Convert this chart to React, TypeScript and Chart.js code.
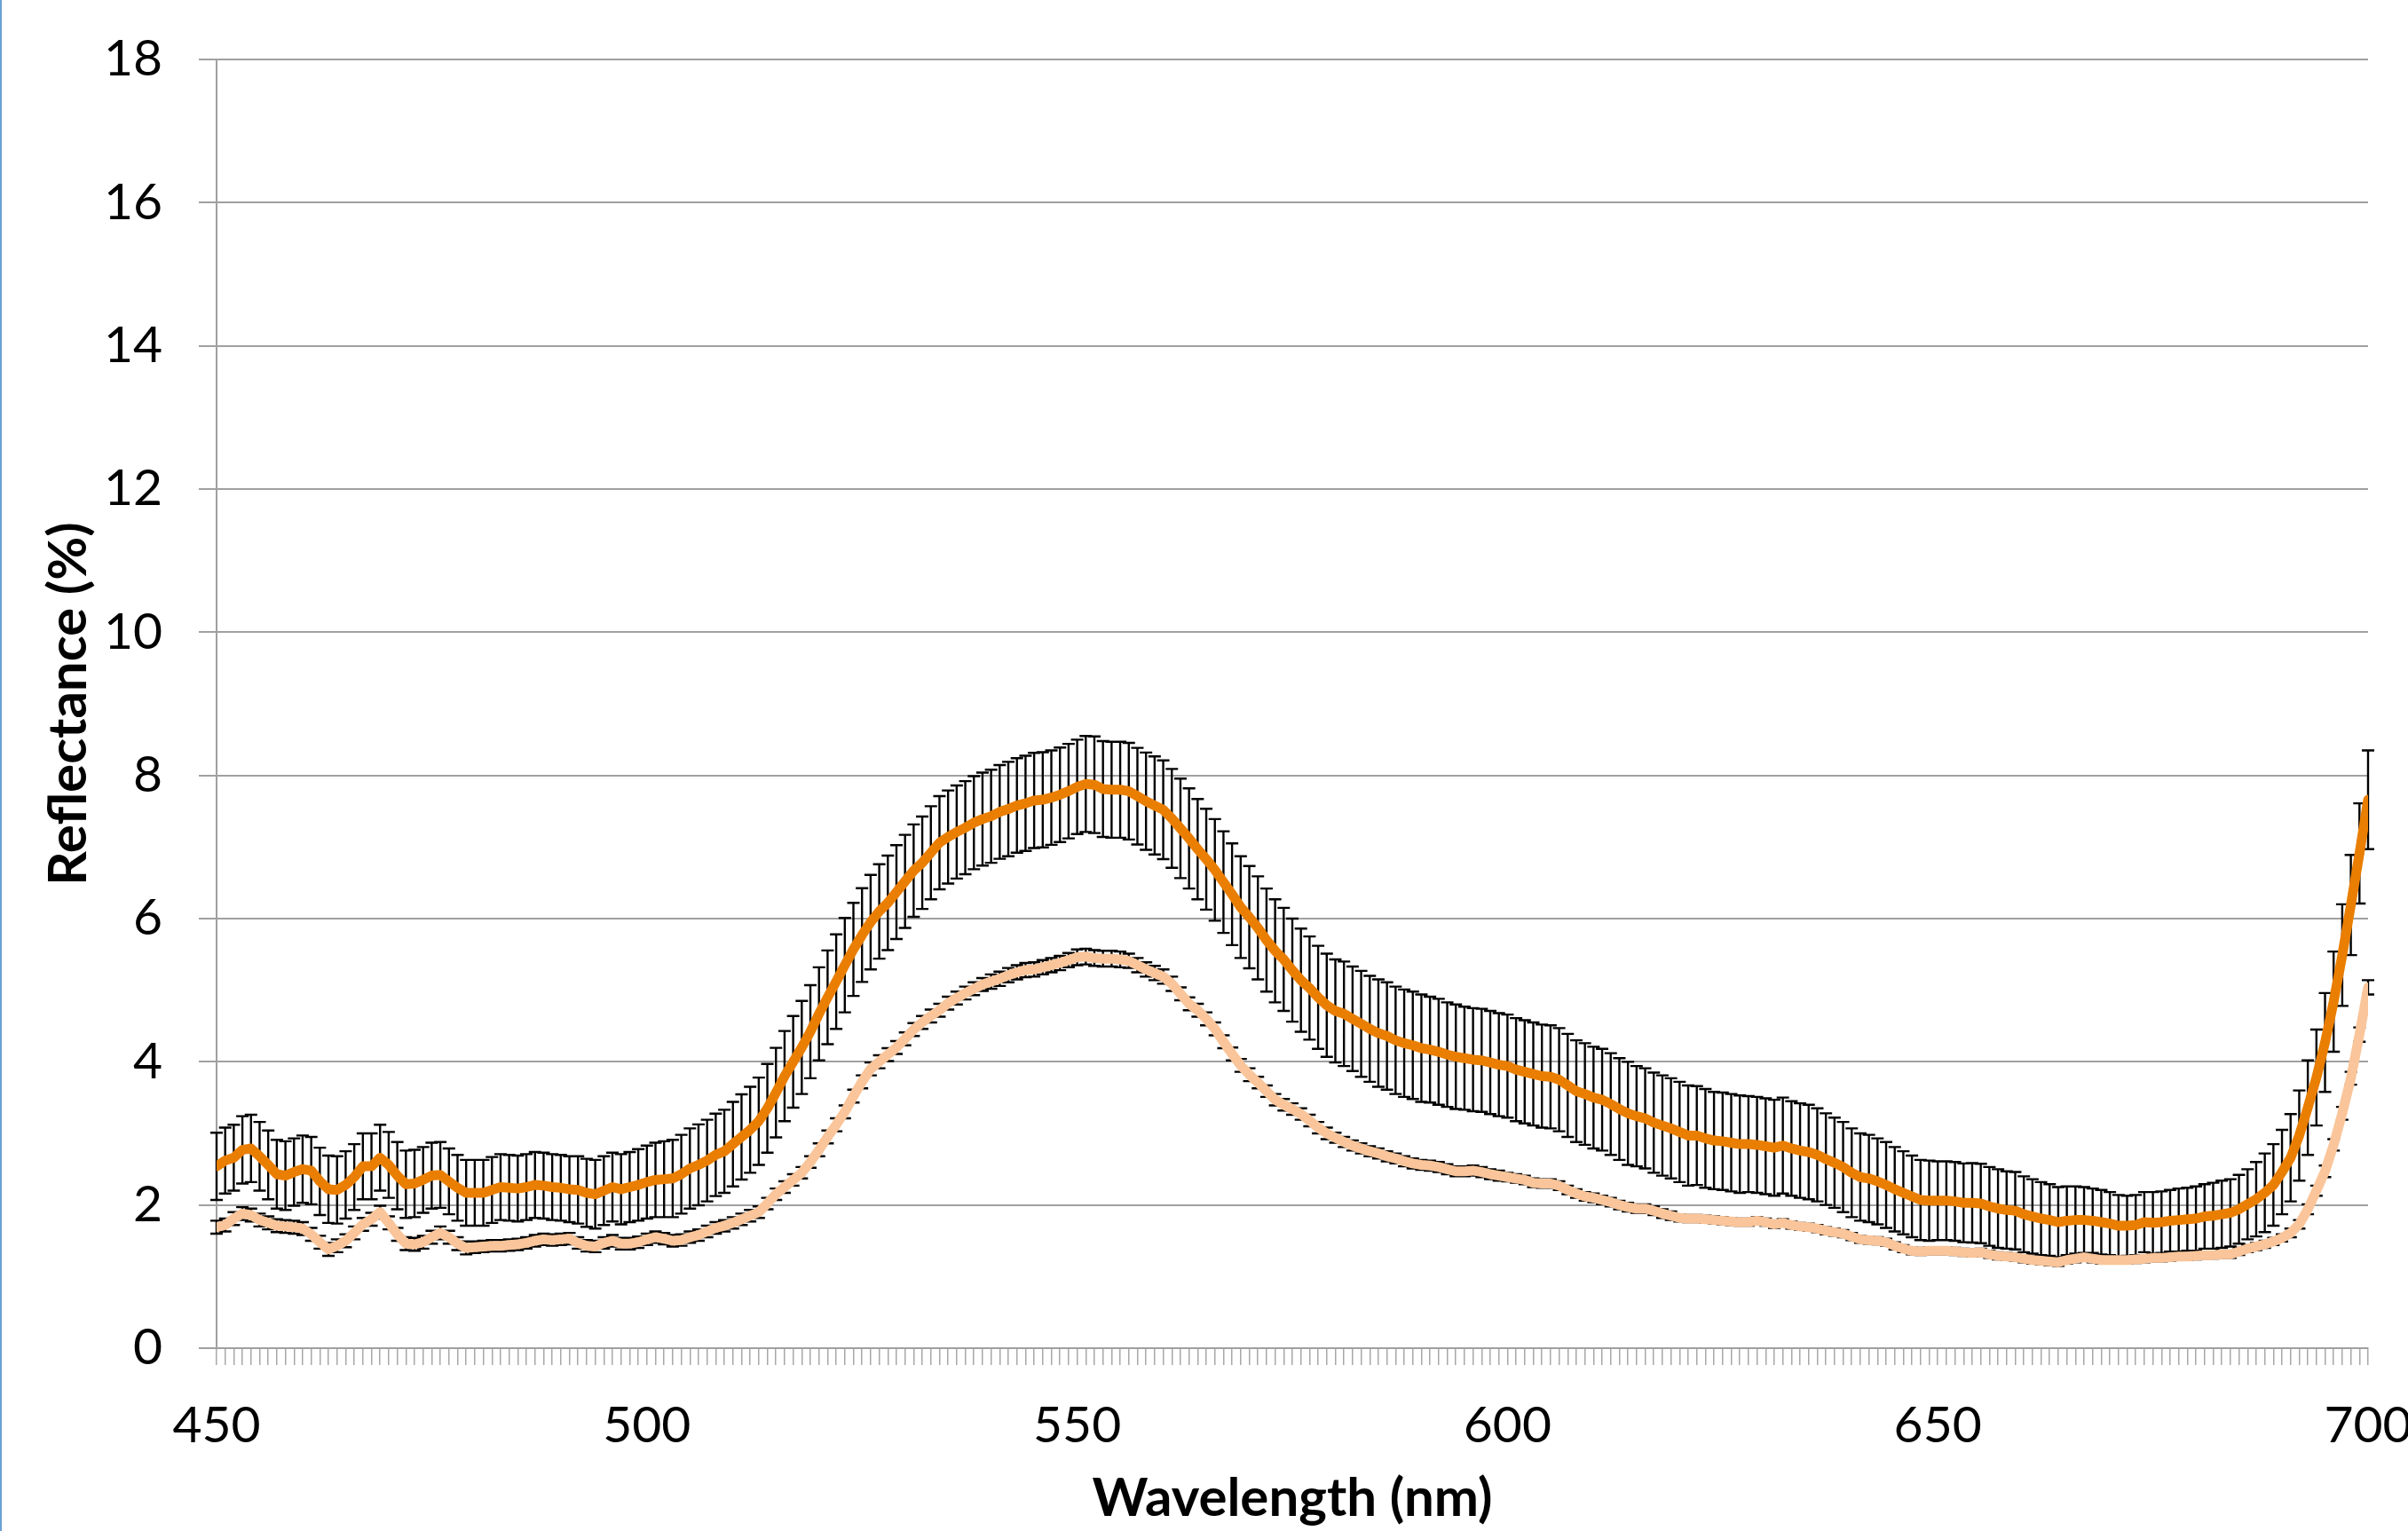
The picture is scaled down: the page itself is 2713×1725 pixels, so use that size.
import React, { useEffect, useRef } from "react";
import { Chart, registerables } from "chart.js";

Chart.register(...registerables);

const wavelengths = [
  450, 451, 452, 453, 454, 455, 456, 457, 458, 459,
  460, 461, 462, 463, 464, 465, 466, 467, 468, 469,
  470, 471, 472, 473, 474, 475, 476, 477, 478, 479,
  480, 481, 482, 483, 484, 485, 486, 487, 488, 489,
  490, 491, 492, 493, 494, 495, 496, 497, 498, 499,
  500, 501, 502, 503, 504, 505, 506, 507, 508, 509,
  510, 511, 512, 513, 514, 515, 516, 517, 518, 519,
  520, 521, 522, 523, 524, 525, 526, 527, 528, 529,
  530, 531, 532, 533, 534, 535, 536, 537, 538, 539,
  540, 541, 542, 543, 544, 545, 546, 547, 548, 549,
  550, 551, 552, 553, 554, 555, 556, 557, 558, 559,
  560, 561, 562, 563, 564, 565, 566, 567, 568, 569,
  570, 571, 572, 573, 574, 575, 576, 577, 578, 579,
  580, 581, 582, 583, 584, 585, 586, 587, 588, 589,
  590, 591, 592, 593, 594, 595, 596, 597, 598, 599,
  600, 601, 602, 603, 604, 605, 606, 607, 608, 609,
  610, 611, 612, 613, 614, 615, 616, 617, 618, 619,
  620, 621, 622, 623, 624, 625, 626, 627, 628, 629,
  630, 631, 632, 633, 634, 635, 636, 637, 638, 639,
  640, 641, 642, 643, 644, 645, 646, 647, 648, 649,
  650, 651, 652, 653, 654, 655, 656, 657, 658, 659,
  660, 661, 662, 663, 664, 665, 666, 667, 668, 669,
  670, 671, 672, 673, 674, 675, 676, 677, 678, 679,
  680, 681, 682, 683, 684, 685, 686, 687, 688, 689,
  690, 691, 692, 693, 694, 695, 696, 697, 698, 699,
  700,
];

const darkMean = [
  2.54, 2.62, 2.66, 2.77, 2.79, 2.68, 2.56, 2.43, 2.41, 2.46,
  2.50, 2.48, 2.33, 2.22, 2.21, 2.28, 2.39, 2.54, 2.54, 2.66,
  2.56, 2.41, 2.29, 2.30, 2.35, 2.41, 2.42, 2.33, 2.24, 2.17,
  2.17, 2.17, 2.21, 2.25, 2.24, 2.23, 2.25, 2.28, 2.27, 2.25,
  2.24, 2.22, 2.21, 2.17, 2.15, 2.20, 2.25, 2.22, 2.25, 2.28,
  2.32, 2.35, 2.36, 2.37, 2.43, 2.51, 2.56, 2.62, 2.70, 2.75,
  2.85, 2.95, 3.05, 3.17, 3.35, 3.57, 3.80, 4.00, 4.20, 4.42,
  4.67, 4.90, 5.12, 5.35, 5.57, 5.77, 5.95, 6.10, 6.22, 6.37,
  6.52, 6.67, 6.78, 6.92, 7.06, 7.14, 7.21, 7.27, 7.34, 7.39,
  7.43, 7.49, 7.53, 7.58, 7.61, 7.65, 7.66, 7.69, 7.73, 7.78,
  7.84, 7.88, 7.87, 7.81, 7.80, 7.80, 7.78, 7.71, 7.64, 7.58,
  7.52, 7.40, 7.26, 7.12, 6.97, 6.83, 6.68, 6.51, 6.34, 6.16,
  6.02, 5.87, 5.70, 5.55, 5.43, 5.28, 5.14, 5.03, 4.90, 4.79,
  4.71, 4.67, 4.60, 4.53, 4.46, 4.40, 4.36, 4.30, 4.26, 4.23,
  4.19, 4.17, 4.14, 4.10, 4.07, 4.05, 4.03, 4.02, 3.99, 3.96,
  3.94, 3.89, 3.86, 3.83, 3.80, 3.79, 3.75, 3.67, 3.59, 3.55,
  3.50, 3.47, 3.41, 3.34, 3.28, 3.24, 3.21, 3.15, 3.11, 3.07,
  3.02, 2.97, 2.97, 2.93, 2.90, 2.89, 2.87, 2.85, 2.85, 2.84,
  2.82, 2.80, 2.83, 2.79, 2.76, 2.74, 2.70, 2.64, 2.59, 2.53,
  2.45, 2.39, 2.37, 2.33, 2.28, 2.22, 2.17, 2.12, 2.07, 2.06,
  2.06, 2.06, 2.05, 2.03, 2.03, 2.02, 1.98, 1.95, 1.93, 1.92,
  1.87, 1.84, 1.81, 1.79, 1.76, 1.78, 1.79, 1.79, 1.78, 1.76,
  1.74, 1.71, 1.71, 1.72, 1.76, 1.75, 1.76, 1.78, 1.79, 1.80,
  1.81, 1.84, 1.85, 1.87, 1.89, 1.94, 2.01, 2.08, 2.17, 2.28,
  2.46, 2.66, 2.97, 3.36, 3.78, 4.27, 4.84, 5.49, 6.19, 6.91,
  7.66,
];

const darkSd = [
  0.47, 0.46, 0.46, 0.47, 0.47, 0.48, 0.48, 0.48, 0.48, 0.47,
  0.47, 0.47, 0.47, 0.47, 0.47, 0.47, 0.46, 0.46, 0.46, 0.46,
  0.46, 0.47, 0.47, 0.47, 0.46, 0.46, 0.46, 0.46, 0.46, 0.46,
  0.46, 0.46, 0.46, 0.46, 0.46, 0.46, 0.46, 0.46, 0.46, 0.46,
  0.46, 0.46, 0.47, 0.475, 0.48, 0.48, 0.48, 0.49, 0.49, 0.50,
  0.51, 0.52, 0.53, 0.54, 0.55, 0.56, 0.565, 0.57, 0.575, 0.58,
  0.59, 0.595, 0.60, 0.61, 0.62, 0.625, 0.63, 0.64, 0.65, 0.65,
  0.65, 0.655, 0.66, 0.66, 0.65, 0.655, 0.66, 0.66, 0.66, 0.655,
  0.65, 0.645, 0.645, 0.65, 0.65, 0.65, 0.65, 0.65, 0.65, 0.65,
  0.65, 0.655, 0.66, 0.66, 0.665, 0.665, 0.665, 0.66, 0.66, 0.66,
  0.66, 0.67, 0.675, 0.67, 0.67, 0.67, 0.675, 0.675, 0.68, 0.685,
  0.69, 0.69, 0.695, 0.70, 0.70, 0.705, 0.71, 0.71, 0.71, 0.71,
  0.715, 0.72, 0.72, 0.72, 0.72, 0.72, 0.72, 0.72, 0.72, 0.72,
  0.72, 0.73, 0.73, 0.74, 0.74, 0.75, 0.75, 0.75, 0.75, 0.75,
  0.75, 0.74, 0.74, 0.73, 0.73, 0.72, 0.72, 0.72, 0.72, 0.72,
  0.72, 0.72, 0.72, 0.72, 0.72, 0.72, 0.72, 0.72, 0.71, 0.71,
  0.71, 0.71, 0.71, 0.71, 0.72, 0.70, 0.70, 0.70, 0.70, 0.70,
  0.70, 0.70, 0.69, 0.69, 0.68, 0.68, 0.68, 0.68, 0.67, 0.67,
  0.67, 0.67, 0.67, 0.66, 0.66, 0.66, 0.65, 0.64, 0.63, 0.63,
  0.62, 0.61, 0.61, 0.60, 0.60, 0.59, 0.58, 0.57, 0.56, 0.56,
  0.55, 0.55, 0.55, 0.55, 0.555, 0.555, 0.55, 0.55, 0.54, 0.54,
  0.53, 0.52, 0.51, 0.50, 0.49, 0.48, 0.47, 0.46, 0.45, 0.45,
  0.44, 0.43, 0.42, 0.42, 0.42, 0.43, 0.43, 0.43, 0.44, 0.44,
  0.45, 0.45, 0.46, 0.47, 0.47, 0.48, 0.49, 0.52, 0.55, 0.57,
  0.59, 0.61, 0.63, 0.66, 0.67, 0.69, 0.70, 0.71, 0.70, 0.70,
  0.69,
];

const lightMean = [
  1.69, 1.72, 1.81, 1.88, 1.86, 1.79, 1.75, 1.71, 1.70, 1.69,
  1.67, 1.59, 1.48, 1.38, 1.43, 1.50, 1.61, 1.73, 1.80, 1.90,
  1.75, 1.59, 1.46, 1.45, 1.48, 1.55, 1.61, 1.55, 1.46, 1.40,
  1.41, 1.42, 1.43, 1.43, 1.44, 1.45, 1.47, 1.50, 1.52, 1.51,
  1.52, 1.53, 1.47, 1.43, 1.42, 1.47, 1.50, 1.46, 1.46, 1.48,
  1.52, 1.55, 1.53, 1.50, 1.51, 1.55, 1.58, 1.63, 1.68, 1.71,
  1.75, 1.80, 1.85, 1.90, 2.02, 2.15, 2.25, 2.35, 2.45, 2.60,
  2.77, 2.95, 3.12, 3.30, 3.52, 3.72, 3.90, 4.00, 4.10, 4.20,
  4.32, 4.45, 4.55, 4.64, 4.72, 4.82, 4.89, 4.96, 5.02, 5.08,
  5.12, 5.16, 5.21, 5.25, 5.28, 5.29, 5.32, 5.35, 5.38, 5.42,
  5.46, 5.47, 5.45, 5.44, 5.44, 5.43, 5.41, 5.35, 5.29, 5.24,
  5.19, 5.09, 4.95, 4.81, 4.72, 4.60, 4.46, 4.28, 4.11, 3.95,
  3.82, 3.71, 3.59, 3.47, 3.40, 3.34, 3.27, 3.18, 3.08, 3.00,
  2.94, 2.88, 2.83, 2.79, 2.75, 2.72, 2.68, 2.65, 2.61, 2.58,
  2.56, 2.55, 2.53, 2.50, 2.47, 2.47, 2.48, 2.46, 2.43, 2.41,
  2.39, 2.37, 2.35, 2.31, 2.30, 2.30, 2.27, 2.21, 2.16, 2.12,
  2.10, 2.07, 2.04, 2.00, 1.97, 1.95, 1.95, 1.92, 1.88, 1.85,
  1.82, 1.81, 1.81, 1.80, 1.79, 1.78, 1.77, 1.76, 1.76, 1.78,
  1.76, 1.73, 1.75, 1.72, 1.70, 1.69, 1.67, 1.64, 1.62, 1.60,
  1.56, 1.52, 1.51, 1.50, 1.48, 1.43, 1.39, 1.36, 1.35, 1.36,
  1.36, 1.36, 1.35, 1.34, 1.33, 1.34, 1.31, 1.29, 1.28, 1.27,
  1.25, 1.23, 1.22, 1.21, 1.20, 1.23, 1.25, 1.27, 1.25, 1.23,
  1.23, 1.23, 1.23, 1.24, 1.25, 1.26, 1.26, 1.27, 1.28, 1.28,
  1.29, 1.30, 1.30, 1.31, 1.31, 1.35, 1.39, 1.42, 1.45, 1.49,
  1.54, 1.61, 1.73, 1.94, 2.20, 2.47, 2.84, 3.28, 3.77, 4.38,
  5.04,
];

const lightSd = [
  0.09, 0.09, 0.09, 0.09, 0.09, 0.09, 0.09, 0.09, 0.09, 0.09,
  0.09, 0.09, 0.09, 0.09, 0.09, 0.09, 0.09, 0.09, 0.09, 0.09,
  0.09, 0.09, 0.09, 0.09, 0.09, 0.09, 0.09, 0.09, 0.09, 0.09,
  0.08, 0.08, 0.08, 0.08, 0.08, 0.08, 0.08, 0.08, 0.08, 0.08,
  0.08, 0.08, 0.08, 0.08, 0.08, 0.08, 0.08, 0.08, 0.08, 0.08,
  0.08, 0.08, 0.08, 0.08, 0.08, 0.08, 0.08, 0.08, 0.08, 0.08,
  0.08, 0.08, 0.08, 0.08, 0.08, 0.08, 0.08, 0.08, 0.08, 0.08,
  0.09, 0.09, 0.09, 0.09, 0.09, 0.09, 0.09, 0.09, 0.09, 0.09,
  0.09, 0.09, 0.09, 0.09, 0.09, 0.09, 0.09, 0.09, 0.09, 0.09,
  0.10, 0.10, 0.10, 0.10, 0.10, 0.10, 0.10, 0.10, 0.10, 0.10,
  0.11, 0.11, 0.11, 0.11, 0.11, 0.11, 0.10, 0.10, 0.10, 0.10,
  0.10, 0.10, 0.09, 0.09, 0.09, 0.09, 0.09, 0.09, 0.09, 0.09,
  0.09, 0.08, 0.08, 0.08, 0.08, 0.08, 0.08, 0.08, 0.08, 0.08,
  0.07, 0.07, 0.07, 0.07, 0.07, 0.07, 0.07, 0.07, 0.07, 0.07,
  0.07, 0.07, 0.07, 0.07, 0.07, 0.07, 0.07, 0.07, 0.07, 0.07,
  0.06, 0.06, 0.06, 0.06, 0.06, 0.06, 0.06, 0.06, 0.06, 0.06,
  0.06, 0.06, 0.06, 0.06, 0.06, 0.06, 0.06, 0.06, 0.06, 0.06,
  0.05, 0.05, 0.05, 0.05, 0.05, 0.05, 0.05, 0.05, 0.05, 0.05,
  0.05, 0.05, 0.05, 0.05, 0.05, 0.05, 0.05, 0.05, 0.05, 0.05,
  0.05, 0.05, 0.05, 0.05, 0.05, 0.05, 0.05, 0.05, 0.05, 0.05,
  0.05, 0.05, 0.05, 0.05, 0.05, 0.05, 0.05, 0.05, 0.05, 0.05,
  0.05, 0.05, 0.05, 0.05, 0.05, 0.05, 0.05, 0.05, 0.05, 0.05,
  0.05, 0.05, 0.05, 0.05, 0.05, 0.05, 0.05, 0.05, 0.05, 0.05,
  0.05, 0.05, 0.05, 0.05, 0.05, 0.05, 0.05, 0.05, 0.05, 0.05,
  0.05, 0.06, 0.06, 0.07, 0.07, 0.08, 0.08, 0.09, 0.09, 0.10,
  0.10,
];

const xTickLabels = [450, 500, 550, 600, 650, 700];
const yMin = 0;
const yMax = 18;
const yStep = 2;

const FONT = "Lato, 'Open Sans', 'Noto Sans', sans-serif";

const errorBarPlugin = {
  id: "errorBars",
  beforeDatasetsDraw(chart: any) {
    const { ctx, scales } = chart;
    const xs = scales.x;
    const ys = scales.y;
    const groups: [number[], number[]][] = [
      [darkMean, darkSd],
      [lightMean, lightSd],
    ];
    ctx.save();
    ctx.strokeStyle = "#000000";
    ctx.lineWidth = 2.4;
    ctx.lineCap = "butt";
    const cap = 7;
    for (const [m, s] of groups) {
      ctx.beginPath();
      for (let i = 0; i < wavelengths.length; i++) {
        const px = xs.getPixelForValue(wavelengths[i]);
        const yt = ys.getPixelForValue(m[i] + s[i]);
        const yb = ys.getPixelForValue(m[i] - s[i]);
        ctx.moveTo(px, yt);
        ctx.lineTo(px, yb);
        ctx.moveTo(px - cap, yt);
        ctx.lineTo(px + cap, yt);
        ctx.moveTo(px - cap, yb);
        ctx.lineTo(px + cap, yb);
      }
      ctx.stroke();
    }
    ctx.restore();
  },
};

export default function App() {
  const canvasRef = useRef<HTMLCanvasElement | null>(null);

  useEffect(() => {
    if (!canvasRef.current) return;
    const darkPts = wavelengths.map((w, i) => ({ x: w, y: darkMean[i] }));
    const lightPts = wavelengths.map((w, i) => ({ x: w, y: lightMean[i] }));

    const chart = new Chart(canvasRef.current, {
      type: "line",
      data: {
        datasets: [
          {
            label: "Dark",
            data: darkPts,
            borderColor: "#E97E00",
            backgroundColor: "#E97E00",
            borderWidth: 11,
            pointRadius: 0,
            tension: 0,
            borderCapStyle: "round",
            borderJoinStyle: "round",
            fill: false,
          },
          {
            label: "Light",
            data: lightPts,
            borderColor: "#FAC59A",
            backgroundColor: "#FAC59A",
            borderWidth: 11,
            pointRadius: 0,
            tension: 0,
            borderCapStyle: "round",
            borderJoinStyle: "round",
            fill: false,
          },
        ],
      },
      options: {
        responsive: false,
        animation: false,
        devicePixelRatio: 1,
        layout: { padding: { top: 67, right: 45, left: 0, bottom: 0 } },
        plugins: {
          legend: { display: false },
          tooltip: { enabled: false },
        },
        scales: {
          x: {
            type: "linear",
            min: 450,
            max: 700,
            afterBuildTicks: (scale: any) => {
              scale.ticks = wavelengths.map((v) => ({ value: v }));
            },
            afterFit: (scale: any) => {
              scale.height = 206;
              scale.paddingLeft = 0;
              scale.paddingRight = 0;
            },
            ticks: {
              autoSkip: false,
              maxRotation: 0,
              minRotation: 0,
              padding: 34,
              color: "#000000",
              font: { family: FONT, size: 57 },
              callback: (v: any) =>
                xTickLabels.includes(Number(v)) ? String(v) : "",
            },
            grid: {
              drawOnChartArea: false,
              drawTicks: true,
              tickLength: 19,
              color: "#a8a8a8",
              lineWidth: 1.5,
            },
            border: { display: true, color: "#a0a0a0", width: 2 },
            title: {
              display: true,
              text: "Wavelength (nm)",
              color: "#000000",
              font: { family: FONT, size: 60, weight: "bold" },
              padding: { top: 0, bottom: 0 },
            },
          },
          y: {
            type: "linear",
            min: yMin,
            max: yMax,
            afterFit: (scale: any) => {
              scale.width = 244;
              scale.paddingTop = 0;
              scale.paddingBottom = 0;
            },
            ticks: {
              stepSize: yStep,
              padding: 41,
              color: "#000000",
              font: { family: FONT, size: 57 },
            },
            grid: {
              color: "#a0a0a0",
              lineWidth: 2,
              tickLength: 20,
            },
            border: { display: true, color: "#a0a0a0", width: 2 },
            title: {
              display: true,
              text: "Reflectance (%)",
              color: "#000000",
              font: { family: FONT, size: 60, weight: "bold" },
              padding: { top: 42, bottom: 0 },
            },
          },
        },
      },
      plugins: [errorBarPlugin],
    } as any);

    return () => chart.destroy();
  }, []);

  return (
    <div
      style={{
        position: "fixed",
        left: 0,
        top: 0,
        width: 2713,
        height: 1725,
        background: "#ffffff",
        overflow: "hidden",
      }}
    >
      <canvas
        ref={canvasRef}
        width={2713}
        height={1725}
        style={{ display: "block", width: 2713, height: 1725 }}
      />
      <div
        style={{
          position: "absolute",
          left: 0,
          top: 0,
          width: 2,
          height: 1725,
          background: "#6A9FD6",
        }}
      />
    </div>
  );
}
